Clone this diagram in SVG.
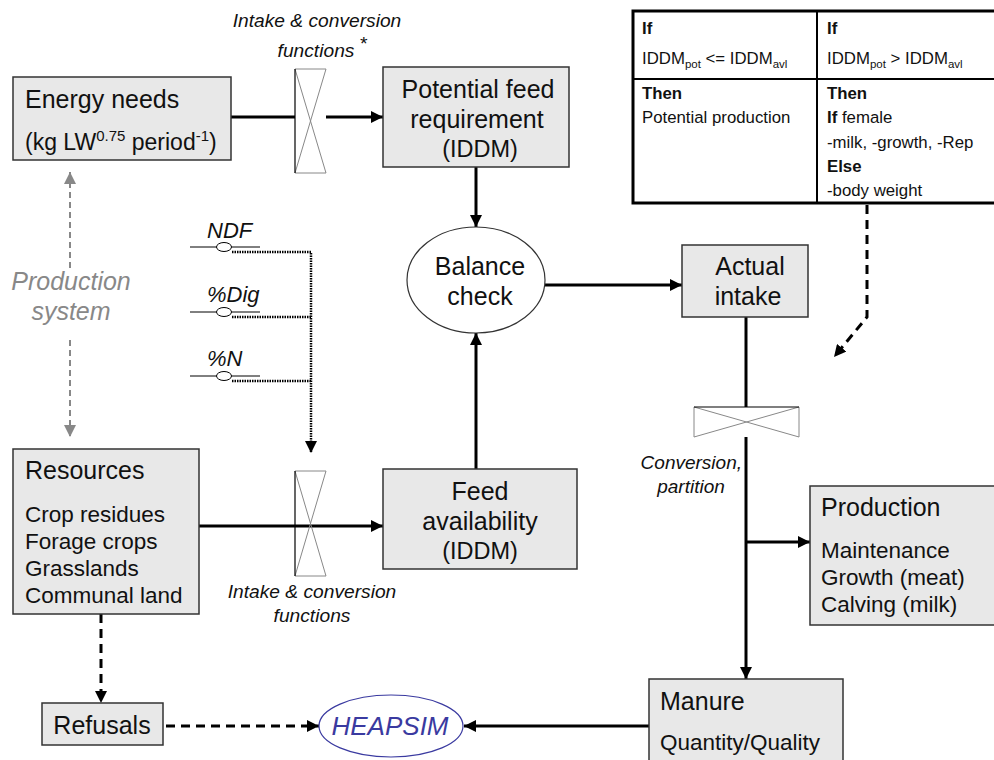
<svg xmlns="http://www.w3.org/2000/svg" width="994" height="760" viewBox="0 0 994 760">
  <style>
    text { font-family: "Liberation Sans", Arial, sans-serif; fill: #111; }
    .box { fill: #e8e8e8; stroke: #333; stroke-width: 1.5; }
    .t22 { font-size: 25px; }
    .t20 { font-size: 22.5px; }
    .t19 { font-size: 19.2px; }
    .t21 { font-size: 22px; }
    .it { font-style: italic; }
    .tb { font-size: 16.8px; }
    .b { font-weight: bold; }
    .flow { stroke: #000; stroke-width: 3; fill: none; }
    .dash { stroke: #000; stroke-width: 3; fill: none; stroke-dasharray: 9 6; }
    .dot { stroke: #000; stroke-width: 2.5; fill: none; stroke-dasharray: 1.5 1; }
    .gdash { stroke: #888; stroke-width: 2; fill: none; stroke-dasharray: 6 4; }
    .vg { stroke: #888; stroke-width: 1; fill: none; }
    .vk { stroke: #000; stroke-width: 1.2; fill: none; }
    .thin { stroke: #000; stroke-width: 1; fill: none; }
  </style>
  <defs>
    <marker id="ah" viewBox="0 0 10 10" refX="10" refY="5" markerWidth="4" markerHeight="4" orient="auto" markerUnits="strokeWidth">
      <path d="M0,0 L10,5 L0,10 z" fill="#000"/>
    </marker>
    <marker id="ahs" viewBox="0 0 10 10" refX="10" refY="5" markerWidth="5" markerHeight="5" orient="auto" markerUnits="strokeWidth">
      <path d="M0,0 L10,5 L0,10 z" fill="#000"/>
    </marker>
    <marker id="ahg" viewBox="0 0 10 10" refX="10" refY="5" markerWidth="6" markerHeight="6" orient="auto" markerUnits="strokeWidth">
      <path d="M0,0 L10,5 L0,10 z" fill="#888"/>
    </marker>
  </defs>

  <!-- connectors -->
  <g id="connectors">
    <line class="flow" x1="231" y1="117" x2="295" y2="117"/>
    <line class="flow" x1="326" y1="117" x2="383" y2="117" marker-end="url(#ah)"/>
    <line class="flow" x1="476" y1="167" x2="476" y2="227" marker-end="url(#ah)"/>
    <line class="flow" x1="545" y1="285" x2="682" y2="285" marker-end="url(#ah)"/>
    <line class="flow" x1="476" y1="470" x2="476" y2="333" marker-end="url(#ah)"/>
    <line class="flow" x1="199" y1="526" x2="383" y2="526" marker-end="url(#ah)"/>
    <line class="flow" x1="746" y1="317" x2="746" y2="407"/>
    <line class="flow" x1="746" y1="437" x2="746" y2="679" marker-end="url(#ah)"/>
    <line class="flow" x1="746" y1="542" x2="810" y2="542" marker-end="url(#ah)"/>
    <line class="flow" x1="649" y1="726" x2="464" y2="726" marker-end="url(#ah)"/>
    <line class="dash" x1="101" y1="614" x2="101" y2="703" marker-end="url(#ah)"/>
    <line class="dash" x1="166" y1="726" x2="319" y2="726" marker-end="url(#ah)"/>
    <path class="dash" d="M867,205 L867,317 L834,357" stroke-width="2.5" stroke-dasharray="6 4" marker-end="url(#ah)"/>
    <line class="gdash" x1="70" y1="268" x2="70" y2="172" marker-end="url(#ahg)"/>
    <line class="gdash" x1="70" y1="340" x2="70" y2="437" marker-end="url(#ahg)"/>
    <!-- feed quality inputs -->
    <path class="dot" d="M232,252 L311,252 L311,453" marker-end="url(#ahs)"/>
    <path class="dot" d="M232,317 L311,317"/>
    <path class="dot" d="M232,381 L311,381"/>
  </g>

  <!-- feed quality parameters -->
  <g id="ndf">
    <text class="t21 it" x="207" y="238">NDF</text>
    <line class="thin" x1="190" y1="247" x2="260" y2="247"/>
    <ellipse cx="224" cy="247" rx="7.5" ry="4.5" fill="#fff" stroke="#000" stroke-width="1"/>
  </g>
  <g id="dig">
    <text class="t21 it" x="207" y="302">%Dig</text>
    <line class="thin" x1="190" y1="312" x2="260" y2="312"/>
    <ellipse cx="224" cy="312" rx="7.5" ry="4.5" fill="#fff" stroke="#000" stroke-width="1"/>
  </g>
  <g id="n">
    <text class="t21 it" x="207" y="366">%N</text>
    <line class="thin" x1="190" y1="376" x2="260" y2="376"/>
    <ellipse cx="224" cy="376" rx="7.5" ry="4.5" fill="#fff" stroke="#000" stroke-width="1"/>
  </g>

  <!-- valves -->
  <g id="valve-top">
    <path class="vg" d="M295,69 L326,69 L295,173 L326,173 z"/>
    <line class="vk" x1="295" y1="69" x2="295" y2="173"/>
    <text class="t19 it" x="317" y="27" text-anchor="middle">Intake &amp; conversion</text>
    <text class="t19 it" x="316" y="57" text-anchor="middle">functions</text>
    <text class="t19 it" x="363" y="50" text-anchor="middle">*</text>
  </g>
  <g id="valve-bottom">
    <path class="vg" d="M295,471 L326,471 L295,576 L326,576 z"/>
    <line class="vk" x1="295" y1="471" x2="295" y2="576"/>
    <text class="t19 it" x="312" y="598" text-anchor="middle">Intake &amp; conversion</text>
    <text class="t19 it" x="312" y="622" text-anchor="middle">functions</text>
  </g>
  <g id="valve-conversion">
    <path class="vg" d="M694,407 L694,437 L799,407 L799,437 z"/>
    <line class="vk" x1="694" y1="407" x2="799" y2="407"/>
    <text class="it" x="742" y="469" text-anchor="end" font-size="19">Conversion,</text>
    <text class="it" x="691" y="493" text-anchor="middle" font-size="19">partition</text>
  </g>

  <!-- nodes -->
  <g id="energy-needs">
    <rect class="box" x="13" y="77" width="218" height="83"/>
    <text class="t22" x="25" y="108">Energy needs</text>
    <text x="25" y="150" font-size="23">(kg LW<tspan font-size="15" dy="-9">0.75</tspan><tspan dy="9"> period</tspan><tspan font-size="15" dy="-9">-1</tspan><tspan dy="9">)</tspan></text>
  </g>

  <g id="potential-feed">
    <rect class="box" x="383" y="67" width="186" height="100"/>
    <text class="t22" x="478" y="98" text-anchor="middle">Potential feed</text>
    <text class="t22" x="477" y="128" text-anchor="middle">requirement</text>
    <text x="480" y="157" text-anchor="middle" font-size="23.5">(IDDM)</text>
  </g>

  <g id="balance-check">
    <ellipse cx="476" cy="280" rx="69" ry="53" fill="#fff" stroke="#333" stroke-width="1.2"/>
    <text class="t22" x="480" y="275" text-anchor="middle">Balance</text>
    <text class="t22" x="480" y="305" text-anchor="middle">check</text>
  </g>

  <g id="actual-intake">
    <rect class="box" x="682" y="245" width="126" height="72"/>
    <text class="t22" x="750" y="275" text-anchor="middle">Actual</text>
    <text class="t22" x="748" y="305" text-anchor="middle">intake</text>
  </g>

  <g id="feed-availability">
    <rect class="box" x="383" y="469" width="194" height="100"/>
    <text class="t22" x="480" y="500" text-anchor="middle">Feed</text>
    <text class="t22" x="480" y="530" text-anchor="middle">availability</text>
    <text x="480" y="559" text-anchor="middle" font-size="23.5">(IDDM)</text>
  </g>

  <g id="production-system">
    <text class="t22 it" x="71" y="290" text-anchor="middle" style="fill:#888">Production</text>
    <text class="t22 it" x="71" y="320" text-anchor="middle" style="fill:#888">system</text>
  </g>

  <g id="resources">
    <rect class="box" x="13" y="449" width="186" height="165"/>
    <text class="t22" x="25" y="479">Resources</text>
    <text class="t20" x="25" y="522">Crop residues</text>
    <text class="t20" x="25" y="549">Forage crops</text>
    <text class="t20" x="25" y="576">Grasslands</text>
    <text class="t20" x="25" y="603">Communal land</text>
  </g>

  <g id="refusals">
    <rect class="box" x="42" y="703" width="121" height="42"/>
    <text class="t22" x="102" y="734" text-anchor="middle">Refusals</text>
  </g>

  <g id="heapsim">
    <ellipse cx="391" cy="726" rx="72" ry="31" fill="#fff" stroke="#3a3aa0" stroke-width="1.2"/>
    <text class="it" x="390" y="735" text-anchor="middle" style="fill:#3a3aa0" font-size="26">HEAPSIM</text>
  </g>

  <g id="manure">
    <rect class="box" x="649" y="679" width="194" height="90"/>
    <text class="t22" x="660" y="710">Manure</text>
    <text class="t20" x="660" y="750">Quantity/Quality</text>
  </g>

  <g id="production">
    <rect class="box" x="810" y="486" width="194" height="139"/>
    <text class="t22" x="821" y="516">Production</text>
    <text class="t20" x="821" y="558">Maintenance</text>
    <text class="t20" x="821" y="585">Growth (meat)</text>
    <text class="t20" x="821" y="612">Calving (milk)</text>
  </g>

  <g id="decision-table">
    <rect x="633" y="11" width="380" height="192" fill="#fff" stroke="#000" stroke-width="3"/>
    <line x1="817" y1="11" x2="817" y2="203" stroke="#000" stroke-width="2"/>
    <line x1="633" y1="79" x2="994" y2="79" stroke="#000" stroke-width="2"/>
    <text class="tb b" x="642" y="34">If</text>
    <text class="tb" x="642" y="64">IDDM<tspan font-size="11.5" dy="4">pot</tspan><tspan dy="-4"> &lt;= IDDM</tspan><tspan font-size="11.5" dy="4">avl</tspan></text>
    <text class="tb b" x="642" y="99">Then</text>
    <text class="tb" x="642" y="123">Potential production</text>
    <text class="tb b" x="827" y="34">If</text>
    <text class="tb" x="827" y="64">IDDM<tspan font-size="11.5" dy="4">pot</tspan><tspan dy="-4"> &gt; IDDM</tspan><tspan font-size="11.5" dy="4">avl</tspan></text>
    <text class="tb b" x="827" y="99">Then</text>
    <text class="tb" x="827" y="123"><tspan font-weight="bold">If</tspan> female</text>
    <text class="tb" x="827" y="148">-milk, -growth, -Rep</text>
    <text class="tb b" x="827" y="172">Else</text>
    <text class="tb" x="827" y="196">-body weight</text>
  </g>
</svg>
